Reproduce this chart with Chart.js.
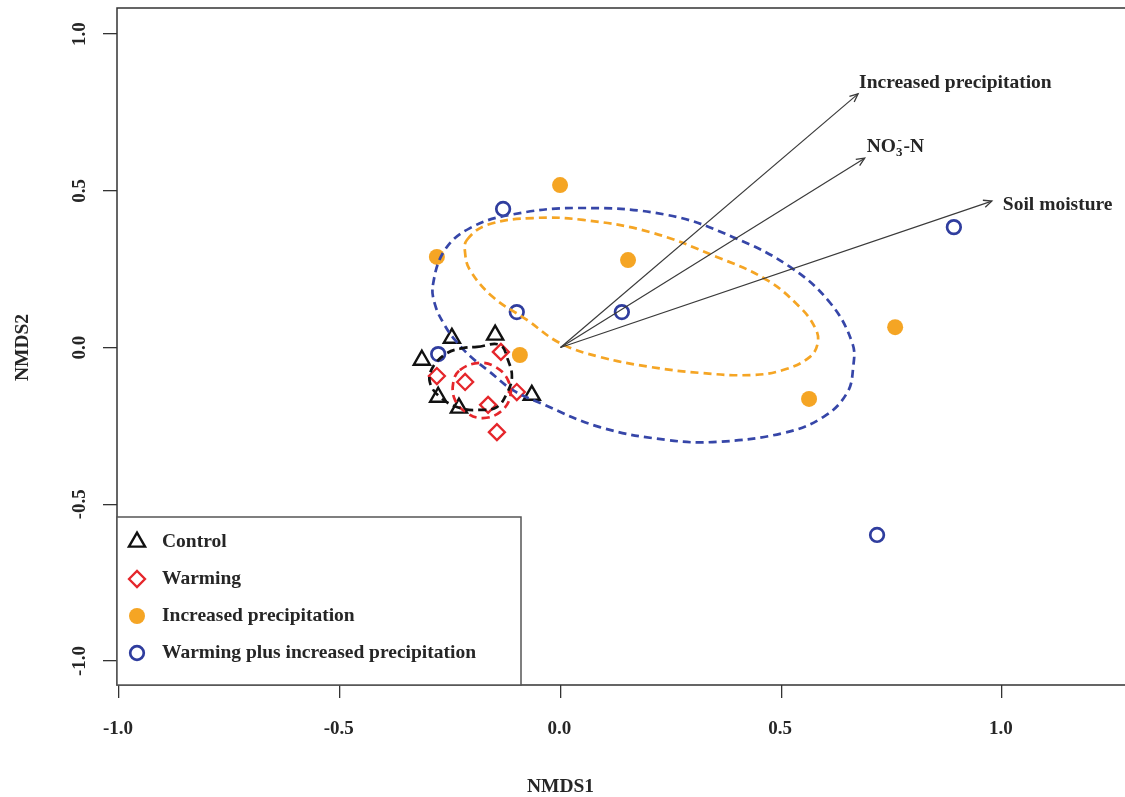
<!DOCTYPE html>
<html><head><meta charset="utf-8">
<script src="https://cdn.jsdelivr.net/npm/chart.js@4.4.0/dist/chart.umd.min.js"></script>
<style>html,body{margin:0;padding:0;background:#fff;}#wrap{width:1125px;height:797px;position:relative;}</style>
</head><body><div id="wrap"><canvas id="c"></canvas></div>
<script>
// ---------- data ----------
const groupNames = ['Control','Warming','Increased precipitation','Warming plus increased precipitation'];
const controlX = [-0.246,-0.148,-0.314,-0.277,-0.230,-0.065];
const controlY = [0.030,0.040,-0.040,-0.158,-0.193,-0.152];
const warmingX = [-0.135,-0.280,-0.216,-0.164,-0.099,-0.144];
const warmingY = [-0.014,-0.091,-0.110,-0.183,-0.142,-0.270];
const precipX = [-0.001,-0.280,0.153,-0.092,0.758,0.563];
const precipY = [0.518,0.289,0.279,-0.024,0.065,-0.164];
const wpX = [-0.130,-0.099,0.139,-0.277,0.891,0.717];
const wpY = [0.442,0.113,0.113,-0.021,0.384,-0.598];

const ellControlX = [-0.189,-0.137,-0.119,-0.110,-0.121,-0.144,-0.182,-0.228,-0.273,-0.296,-0.289,-0.257,-0.221];
const ellControlY = [0.002,0.008,-0.040,-0.094,-0.145,-0.190,-0.199,-0.193,-0.158,-0.110,-0.062,-0.018,-0.002];
const ellWarmX = [-0.228,-0.183,-0.144,-0.119,-0.114,-0.137,-0.176,-0.212,-0.239,-0.243];
const ellWarmY = [-0.072,-0.049,-0.065,-0.104,-0.158,-0.206,-0.225,-0.209,-0.167,-0.113];
const ellPrecipX = [-0.212,-0.166,-0.062,0.051,0.203,0.354,0.468,0.542,0.576,0.583,0.565,0.504,0.429,0.316,0.203,0.089,-0.001,-0.076,-0.153,-0.205,-0.216];
const ellPrecipY = [0.343,0.391,0.413,0.407,0.368,0.289,0.215,0.129,0.065,0.018,-0.030,-0.072,-0.088,-0.081,-0.062,-0.030,0.014,0.088,0.161,0.247,0.301];
const ellWpX = [-0.289,-0.262,-0.205,-0.114,0.037,0.241,0.391,0.520,0.611,0.661,0.663,0.649,0.595,0.504,0.354,0.241,0.089,-0.046,-0.108,-0.160,-0.205,-0.239,-0.264,-0.284];
const ellWpY = [0.199,0.311,0.381,0.423,0.445,0.423,0.352,0.257,0.142,0.014,-0.062,-0.145,-0.222,-0.273,-0.301,-0.295,-0.254,-0.177,-0.136,-0.078,-0.027,0.024,0.075,0.136];

const arrowNames = ['Increased precipitation','NO3-N','Soil moisture'];
const arrowTipX = [0.674,0.689,0.977];
const arrowTipY = [0.809,0.604,0.467];

const xTickVals = [-1.0,-0.5,0.0,0.5,1.0];
const yTickVals = [-1.0,-0.5,0.0,0.5,1.0];

// ---------- styles ----------
const FONT = "'Liberation Serif','Times New Roman',serif";
const TXT = '#262626';
const colBlack = '#111111', colRed = '#e5262b', colOrange = '#f5a524', colBlue = '#2f3d9e', colBlueEll = '#3646a8';
const labelOffsets = [[1,-11],[2,-11],[11,4]];

function pts(xs, ys){ return xs.map((v,i)=>({x:v, y:ys[i]})); }
// closed loop: wrap one point on each side so the curve is smooth at the seam; outer segments hidden
function loop(xs, ys){
  const p = pts(xs, ys), n = p.length;
  return [p[n-1], ...p, p[0], p[1]];
}

const ellStyle = (c)=>({type:'line', showLine:true, pointRadius:0, borderColor:c, borderWidth:2.7, borderDash:[8,5], tension:0.4, fill:false, order:1,
  segment:{borderColor:(ctx)=>{
    const len = ctx.chart.data.datasets[ctx.datasetIndex].data.length;
    return (ctx.p0DataIndex === 0 || ctx.p1DataIndex === len-1) ? 'rgba(0,0,0,0)' : undefined;
  }}});

const datasets = [
  {label:groupNames[0], data:pts(controlX,controlY), pointStyle:'triangle', pointRadius:9.3, borderColor:colBlack, backgroundColor:'rgba(0,0,0,0)', borderWidth:2.4, order:2},
  {label:groupNames[1], data:pts(warmingX,warmingY), pointStyle:'rectRot', pointRadius:8, borderColor:colRed, backgroundColor:'rgba(0,0,0,0)', borderWidth:2.3, order:2},
  {label:groupNames[2], data:pts(precipX,precipY), pointStyle:'circle', pointRadius:8, borderColor:colOrange, backgroundColor:colOrange, borderWidth:0, order:2},
  {label:groupNames[3], data:pts(wpX,wpY), pointStyle:'circle', pointRadius:6.8, borderColor:colBlue, backgroundColor:'rgba(0,0,0,0)', borderWidth:2.7, order:2},
  Object.assign({label:'ell-control', data:loop(ellControlX,ellControlY)}, ellStyle(colBlack)),
  Object.assign({label:'ell-warming', data:loop(ellWarmX,ellWarmY)}, ellStyle(colRed)),
  Object.assign({label:'ell-precip', data:loop(ellPrecipX,ellPrecipY)}, ellStyle(colOrange)),
  Object.assign({label:'ell-wp', data:loop(ellWpX,ellWpY)}, ellStyle(colBlueEll)),
];
arrowTipX.forEach((tx,i)=>{
  datasets.push({type:'line', label:'arrow-'+i, data:[{x:0,y:0},{x:tx,y:arrowTipY[i]}], showLine:true, pointRadius:0, borderColor:'#3a3a3a', borderWidth:1.2, tension:0, fill:false, order:0});
});

const deco = {
  id:'deco',
  afterDatasetsDraw(chart){
    const {ctx, scales:{x,y}} = chart;
    ctx.save();
    const x0 = x.getPixelForValue(0), y0 = y.getPixelForValue(0);
    arrowTipX.forEach((tx,i)=>{
      const x1 = x.getPixelForValue(tx), y1 = y.getPixelForValue(arrowTipY[i]);
      const ang = Math.atan2(y1-y0, x1-x0), L = 9, s = 0.42;
      ctx.strokeStyle = '#3a3a3a'; ctx.lineWidth = 1.3;
      ctx.beginPath();
      ctx.moveTo(x1 - L*Math.cos(ang-s), y1 - L*Math.sin(ang-s));
      ctx.lineTo(x1, y1);
      ctx.lineTo(x1 - L*Math.cos(ang+s), y1 - L*Math.sin(ang+s));
      ctx.stroke();
      const lx = x1 + labelOffsets[i][0], ly = y1 + labelOffsets[i][1];
      ctx.fillStyle = TXT; ctx.textBaseline = 'middle'; ctx.textAlign = 'left';
      if (arrowNames[i] === 'NO3-N') {
        ctx.font = 'bold 19.5px ' + FONT;
        ctx.fillText('NO', lx, ly);
        const w = ctx.measureText('NO').width;
        ctx.font = 'bold 13px ' + FONT;
        ctx.fillText('3', lx + w, ly + 5);
        const w3 = ctx.measureText('3').width;
        ctx.fillText('-', lx + w + 1.5, ly - 7);
        ctx.font = 'bold 19.5px ' + FONT;
        ctx.fillText('-N', lx + w + w3 + 1, ly);
      } else {
        ctx.font = 'bold 19.5px ' + FONT;
        ctx.fillText(arrowNames[i], lx, ly);
      }
    });
    ctx.restore();
  },
  afterDraw(chart){
    const {ctx, chartArea:a, scales:{x,y}} = chart;
    ctx.save();
    ctx.strokeStyle = '#333'; ctx.lineWidth = 1.5;
    ctx.beginPath();
    ctx.moveTo(1125, a.top); ctx.lineTo(a.left, a.top); ctx.lineTo(a.left, a.bottom); ctx.lineTo(1125, a.bottom);
    ctx.stroke();
    ctx.fillStyle = TXT; ctx.font = 'bold 19px ' + FONT; ctx.textAlign = 'center'; ctx.textBaseline = 'middle';
    yTickVals.forEach(v=>{
      const py = y.getPixelForValue(v);
      ctx.save(); ctx.translate(80, py); ctx.rotate(-Math.PI/2); ctx.fillText(v.toFixed(1), 0, 0); ctx.restore();
    });
    xTickVals.forEach(v=>{
      ctx.fillText(v.toFixed(1), x.getPixelForValue(v) - 1, 729);
    });
    ctx.font = 'bold 19.5px ' + FONT;
    ctx.fillText('NMDS1', x.getPixelForValue(0), 787);
    ctx.save(); ctx.translate(23, y.getPixelForValue(0)); ctx.rotate(-Math.PI/2); ctx.fillText('NMDS2', 0, 0); ctx.restore();
    const lx = a.left, lw = 404, lh = 168, ly = a.bottom - lh;
    ctx.fillStyle = '#fff'; ctx.fillRect(lx, ly, lw, lh);
    ctx.strokeStyle = '#555'; ctx.lineWidth = 1.5; ctx.strokeRect(lx, ly, lw, lh);
    const rows = [25, 62, 99, 136];
    const ds = chart.data.datasets;
    for (let i = 0; i < 4; i++) {
      const d = ds[i];
      const cy = ly + rows[i];
      ctx.strokeStyle = d.borderColor; ctx.fillStyle = d.backgroundColor; ctx.lineWidth = d.borderWidth;
      Chart.helpers.drawPoint(ctx, {pointStyle:d.pointStyle, radius:d.pointRadius, rotation:0, borderWidth:d.borderWidth}, lx + 20, cy);
      ctx.fillStyle = TXT; ctx.font = 'bold 19.5px ' + FONT; ctx.textAlign = 'left'; ctx.textBaseline = 'middle';
      ctx.fillText(groupNames[i], lx + 45, cy);
    }
    ctx.restore();
  }
};

new Chart(document.getElementById('c'), {
  type:'scatter',
  data:{datasets},
  options:{
    responsive:true, maintainAspectRatio:false, animation:false,
    layout:{autoPadding:false, padding:{left:0, right:0, top:8, bottom:0}},
    plugins:{legend:{display:false}, tooltip:{enabled:false}},
    scales:{
      x:{type:'linear', min:-1.0045, max:1.2786,
        afterBuildTicks:(s)=>{ s.ticks = xTickVals.map(v=>({value:v})); },
        afterFit:(s)=>{ s.height = 112; s.paddingRight = 0; s.paddingLeft = 0; },
        ticks:{display:false},
        grid:{display:true, drawOnChartArea:false, drawTicks:true, tickLength:13, color:'#333', lineWidth:1.3},
        border:{display:false}},
      y:{type:'linear', min:-1.0766, max:1.083,
        afterBuildTicks:(s)=>{ s.ticks = yTickVals.map(v=>({value:v})); },
        afterFit:(s)=>{ s.width = 117; s.paddingTop = 0; s.paddingBottom = 0; },
        ticks:{display:false},
        grid:{display:true, drawOnChartArea:false, drawTicks:true, tickLength:14, color:'#333', lineWidth:1.3},
        border:{display:false}}
    }
  },
  plugins:[deco]
});
</script></body></html>
